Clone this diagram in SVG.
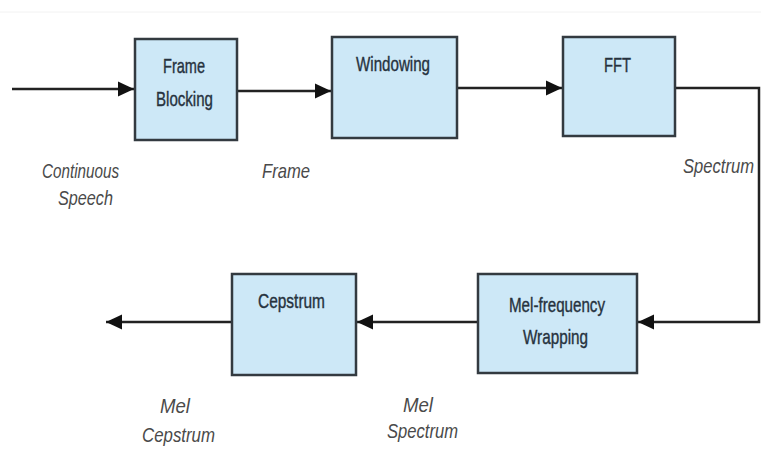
<svg xmlns="http://www.w3.org/2000/svg" width="761" height="451" viewBox="0 0 761 451">
<style>
.box{fill:#cde8f7;stroke:#333a40;stroke-width:2.5}
.bt{font-family:"Liberation Sans",Arial,sans-serif;font-size:21px;fill:#26323e;text-anchor:middle;stroke:#26323e;stroke-width:0.4}
.lbl{font-family:"Liberation Sans",Arial,sans-serif;font-size:21px;font-style:italic;fill:#4a4a4a;text-anchor:middle}
.con{fill:none;stroke:#222;stroke-width:2.5}
</style>
<defs>
<marker id="ah" markerUnits="userSpaceOnUse" markerWidth="18" markerHeight="18" viewBox="0 0 18 18" refX="16" refY="9" orient="auto">
<path d="M0,1.5 L16,9 L0,16.5 Z" fill="#111"/>
</marker>
</defs>
<rect width="761" height="451" fill="#fff"/>
<line x1="0" y1="12" x2="761" y2="12" stroke="#f2f2f2" stroke-width="1"/>
<g id="connectors">
<line class="con" x1="12" y1="89" x2="134" y2="89" marker-end="url(#ah)"/>
<line class="con" x1="237" y1="91" x2="331" y2="91" marker-end="url(#ah)"/>
<line class="con" x1="457" y1="88" x2="562" y2="88" marker-end="url(#ah)"/>
<polyline class="con" points="675,88 759,88 759,322 638,322" marker-end="url(#ah)"/>
<line class="con" x1="478" y1="322" x2="357" y2="322" marker-end="url(#ah)"/>
<line class="con" x1="232" y1="322" x2="106" y2="322" marker-end="url(#ah)"/>
</g>
<g id="frame-blocking">
<rect class="box" x="135" y="39" width="102" height="101"/>
<text class="bt" x="184" y="73" textLength="42" lengthAdjust="spacingAndGlyphs">Frame</text>
<text class="bt" x="184.5" y="106" textLength="57" lengthAdjust="spacingAndGlyphs">Blocking</text>
</g>
<g id="windowing">
<rect class="box" x="332" y="37" width="125" height="101"/>
<text class="bt" x="393" y="71" textLength="74" lengthAdjust="spacingAndGlyphs">Windowing</text>
</g>
<g id="fft">
<rect class="box" x="563" y="37" width="112" height="99"/>
<text class="bt" x="617.5" y="72" textLength="27" lengthAdjust="spacingAndGlyphs">FFT</text>
</g>
<g id="mel-frequency-wrapping">
<rect class="box" x="478" y="274" width="159" height="99"/>
<text class="bt" x="557" y="312" textLength="96" lengthAdjust="spacingAndGlyphs">Mel-frequency</text>
<text class="bt" x="555.5" y="344" textLength="65" lengthAdjust="spacingAndGlyphs">Wrapping</text>
</g>
<g id="cepstrum">
<rect class="box" x="232" y="274" width="124" height="101"/>
<text class="bt" x="291.5" y="308" textLength="67" lengthAdjust="spacingAndGlyphs">Cepstrum</text>
</g>
<g id="labels">
<text class="lbl" x="80.5" y="178" textLength="77" lengthAdjust="spacingAndGlyphs">Continuous</text>
<text class="lbl" x="85.5" y="205" textLength="55" lengthAdjust="spacingAndGlyphs">Speech</text>
<text class="lbl" x="286" y="178" textLength="48" lengthAdjust="spacingAndGlyphs">Frame</text>
<text class="lbl" transform="translate(683,173) scale(1,1.2)" x="0" y="0" style="text-anchor:start;font-size:17px" textLength="71" lengthAdjust="spacingAndGlyphs">Spectrum</text>
<text class="lbl" x="175" y="413" textLength="30" lengthAdjust="spacingAndGlyphs">Mel</text>
<text class="lbl" x="178.5" y="442" textLength="73" lengthAdjust="spacingAndGlyphs">Cepstrum</text>
<text class="lbl" x="418" y="412" textLength="30" lengthAdjust="spacingAndGlyphs">Mel</text>
<text class="lbl" x="422.5" y="438" textLength="71" lengthAdjust="spacingAndGlyphs">Spectrum</text>
</g>
</svg>
